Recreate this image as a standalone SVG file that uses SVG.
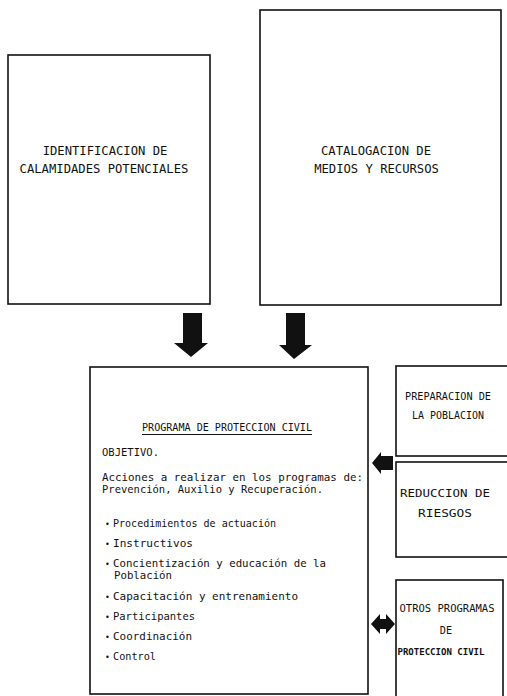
<svg xmlns="http://www.w3.org/2000/svg" width="507" height="696" viewBox="0 0 507 696">
<style>
.box{fill:none;stroke:#111;stroke-width:1.6}
.t{font-family:"DejaVu Sans Mono","Liberation Mono",monospace;fill:#111}
.c{text-anchor:middle}
.arrow{fill:#111;stroke:none}
</style>
<rect width="507" height="696" fill="#fff"/>
<g id="identificacion">
<rect class="box" x="8" y="55" width="202" height="249"/>
<text class="t c" x="105" y="155" font-size="12.2">IDENTIFICACION DE</text>
<text class="t c" x="104" y="173" font-size="12.2">CALAMIDADES POTENCIALES</text>
</g>
<g id="catalogacion">
<rect class="box" x="260" y="10" width="241" height="295"/>
<text class="t c" x="376" y="155" font-size="12.2">CATALOGACION DE</text>
<text class="t c" x="376.5" y="173" font-size="12.2">MEDIOS Y RECURSOS</text>
</g>
<g id="programa">
<rect class="box" x="90" y="367" width="278" height="327"/>
<text class="t c" x="227" y="431" font-size="10" textLength="170" lengthAdjust="spacingAndGlyphs">PROGRAMA DE PROTECCION CIVIL</text>
<line x1="142" y1="434.5" x2="312" y2="434.5" stroke="#111" stroke-width="1"/>
<text class="t" x="102" y="456" font-size="10.6" textLength="57" lengthAdjust="spacingAndGlyphs">OBJETIVO.</text>
<text class="t" x="102" y="481" font-size="10.6" textLength="261" lengthAdjust="spacingAndGlyphs">Acciones a realizar en los programas de:</text>
<text class="t" x="102" y="493" font-size="10.6" textLength="221" lengthAdjust="spacingAndGlyphs">Prevención, Auxilio y Recuperación.</text>
<g font-size="10.6">
<text class="t" x="105" y="527" font-size="8">•</text>
<text class="t" x="113" y="527" textLength="163" lengthAdjust="spacingAndGlyphs">Procedimientos de actuación</text>
<text class="t" x="105" y="547" font-size="8">•</text>
<text class="t" x="113" y="547" textLength="80" lengthAdjust="spacingAndGlyphs">Instructivos</text>
<text class="t" x="105" y="567" font-size="8">•</text>
<text class="t" x="113" y="567" textLength="213" lengthAdjust="spacingAndGlyphs">Concientización y educación de la</text>
<text class="t" x="114" y="579" textLength="58" lengthAdjust="spacingAndGlyphs">Población</text>
<text class="t" x="105" y="600" font-size="8">•</text>
<text class="t" x="113" y="600" textLength="185" lengthAdjust="spacingAndGlyphs">Capacitación y entrenamiento</text>
<text class="t" x="105" y="620" font-size="8">•</text>
<text class="t" x="113" y="620" textLength="82" lengthAdjust="spacingAndGlyphs">Participantes</text>
<text class="t" x="105" y="640" font-size="8">•</text>
<text class="t" x="113" y="640" textLength="79" lengthAdjust="spacingAndGlyphs">Coordinación</text>
<text class="t" x="105" y="660" font-size="8">•</text>
<text class="t" x="113" y="660" textLength="43" lengthAdjust="spacingAndGlyphs">Control</text>
</g>
</g>
<g id="preparacion">
<rect class="box" x="396" y="366" width="120" height="90"/>
<text class="t c" x="448" y="400" font-size="10.2" textLength="86" lengthAdjust="spacingAndGlyphs">PREPARACION DE</text>
<text class="t c" x="448" y="419" font-size="10.2" textLength="72" lengthAdjust="spacingAndGlyphs">LA POBLACION</text>
</g>
<g id="reduccion">
<rect class="box" x="396" y="462" width="120" height="95"/>
<text class="t c" x="445" y="497" font-size="11" textLength="90" lengthAdjust="spacingAndGlyphs">REDUCCION DE</text>
<text class="t c" x="445" y="517" font-size="11" textLength="54" lengthAdjust="spacingAndGlyphs">RIESGOS</text>
</g>
<g id="otros">
<rect class="box" x="396" y="580" width="107" height="130"/>
<text class="t c" x="447" y="612" font-size="10.2" textLength="95" lengthAdjust="spacingAndGlyphs">OTROS PROGRAMAS</text>
<text class="t c" x="446" y="634" font-size="10.2">DE</text>
<text class="t c" x="441" y="655" font-size="9.5" font-weight="bold" textLength="87" lengthAdjust="spacingAndGlyphs">PROTECCION CIVIL</text>
</g>
<g id="connectors">
<polygon class="arrow" points="183,313 202,313 202,343 208,343 191,357 174,343 183,343"/>
<polygon class="arrow" points="286,313 305,313 305,345 312,345 294,359 279,345 286,345"/>
<polygon class="arrow" points="372,463 381,452 381,456 393,456 393,470 381,470 381,474"/>
<polygon class="arrow" points="371,624 380,614 380,619 386,619 386,614 395,624 386,634 386,629 380,629 380,634"/>
</g>
</svg>
